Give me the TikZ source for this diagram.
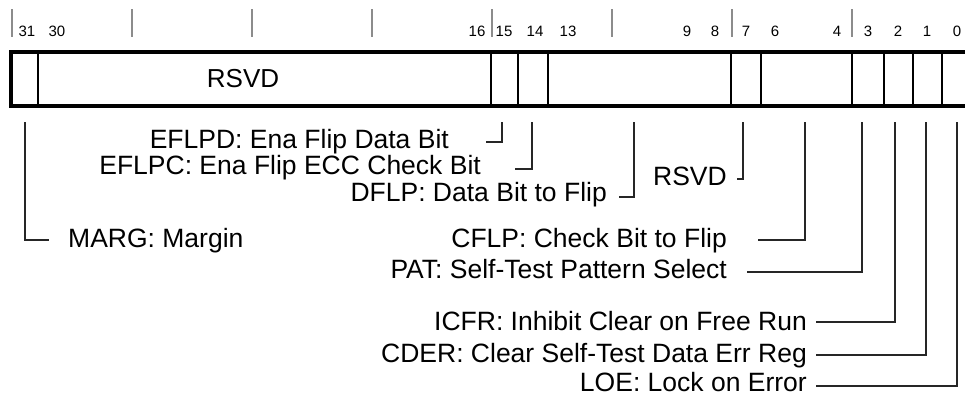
\documentclass[tikz,border=0pt]{standalone}
\usepackage{fontspec}
\setmainfont{Liberation Sans}

\begin{document}
\begin{tikzpicture}[x=1pt, y=-1pt,
	lbl/.style={anchor=base east, inner sep=0pt, font=\fontsize{26.5}{30}\selectfont},
	lblw/.style={anchor=base west, inner sep=0pt, font=\fontsize{26.5}{30}\selectfont},
	num/.style={inner sep=0pt, font=\fontsize{15}{18}\selectfont},
	lead/.style={line width=1.3pt, black!85},
	tick/.style={line width=1.5pt, black!45}]
	\useasboundingbox (0,0) rectangle (965,397);
	\def\bt{52}
	\def\bb{106}
	\def\lt{122}
%%%%
	\foreach \i in {0,...,7}
		\draw[tick] (12+120*\i, 9) -- (12+120*\i, 37);
	\foreach \b/\x in {31/27, 30/57, 16/477, 15/504, 14/535, 13/568, 9/687, 8/715, 7/746, 6/775, 4/837, 3/868, 2/898, 1/927, 0/957}
		\node[num] (n\b) at (\x, 31) {\b};
%%%%
	\draw[line width=4pt] (965,\bt) -- (11,\bt) -- (11,\bb) -- (965,\bb);
	\foreach \x in {38, 491, 518, 548, 731, 761, 852, 884, 913, 942}
		\draw[line width=1.8pt] (\x,\bt) -- (\x,\bb);
	\node[inner sep=0pt, font=\fontsize{26}{30}\selectfont] (rsvdh) at (243, 79) {RSVD};
%%%%
	\foreach \n/\x in {31/25, 15/502, 14/532, 13/634, 7/743, 6/805, 3/862, 2/895, 1/926, 0/957}
		\coordinate (t\n) at (\x, \lt);
	\coordinate (e31) at (49, 240);
	\coordinate (e15) at (486, 142);
	\coordinate (e14) at (515, 169);
	\coordinate (e13) at (619, 197);
	\coordinate (e7) at (737, 179);
	\coordinate (e6) at (758, 240);
	\coordinate (e3) at (747, 272);
	\coordinate (e2) at (816, 322);
	\coordinate (e1) at (816, 355);
	\coordinate (e0) at (816, 386);
	\foreach \n in {31, 15, 14, 13, 7, 6, 3, 2, 1, 0}
		\draw[lead] (t\n) |- (e\n);
%%%%
	\node[lblw] (marg) at (68, 247) {MARG: Margin};
	\node[lbl] (eflpd) at (449, 148) {EFLPD: Ena Flip Data Bit};
	\node[lbl] (eflpc) at (481, 174) {EFLPC: Ena Flip ECC Check Bit};
	\node[lbl] (dflp) at (607, 201) {DFLP: Data Bit to Flip};
	\node[lbl] (rsvd) at (727, 185) {RSVD};
	\node[lbl] (cflp) at (727, 247) {CFLP: Check Bit to Flip};
	\node[lbl] (pat) at (727, 278) {PAT: Self-Test Pattern Select};
	\node[lbl] (icfr) at (807, 330) {ICFR: Inhibit Clear on Free Run};
	\node[lbl] (cder) at (807, 362) {CDER: Clear Self-Test Data Err Reg};
	\node[lbl] (loe) at (807, 391) {LOE: Lock on Error};
\end{tikzpicture}
\end{document}
